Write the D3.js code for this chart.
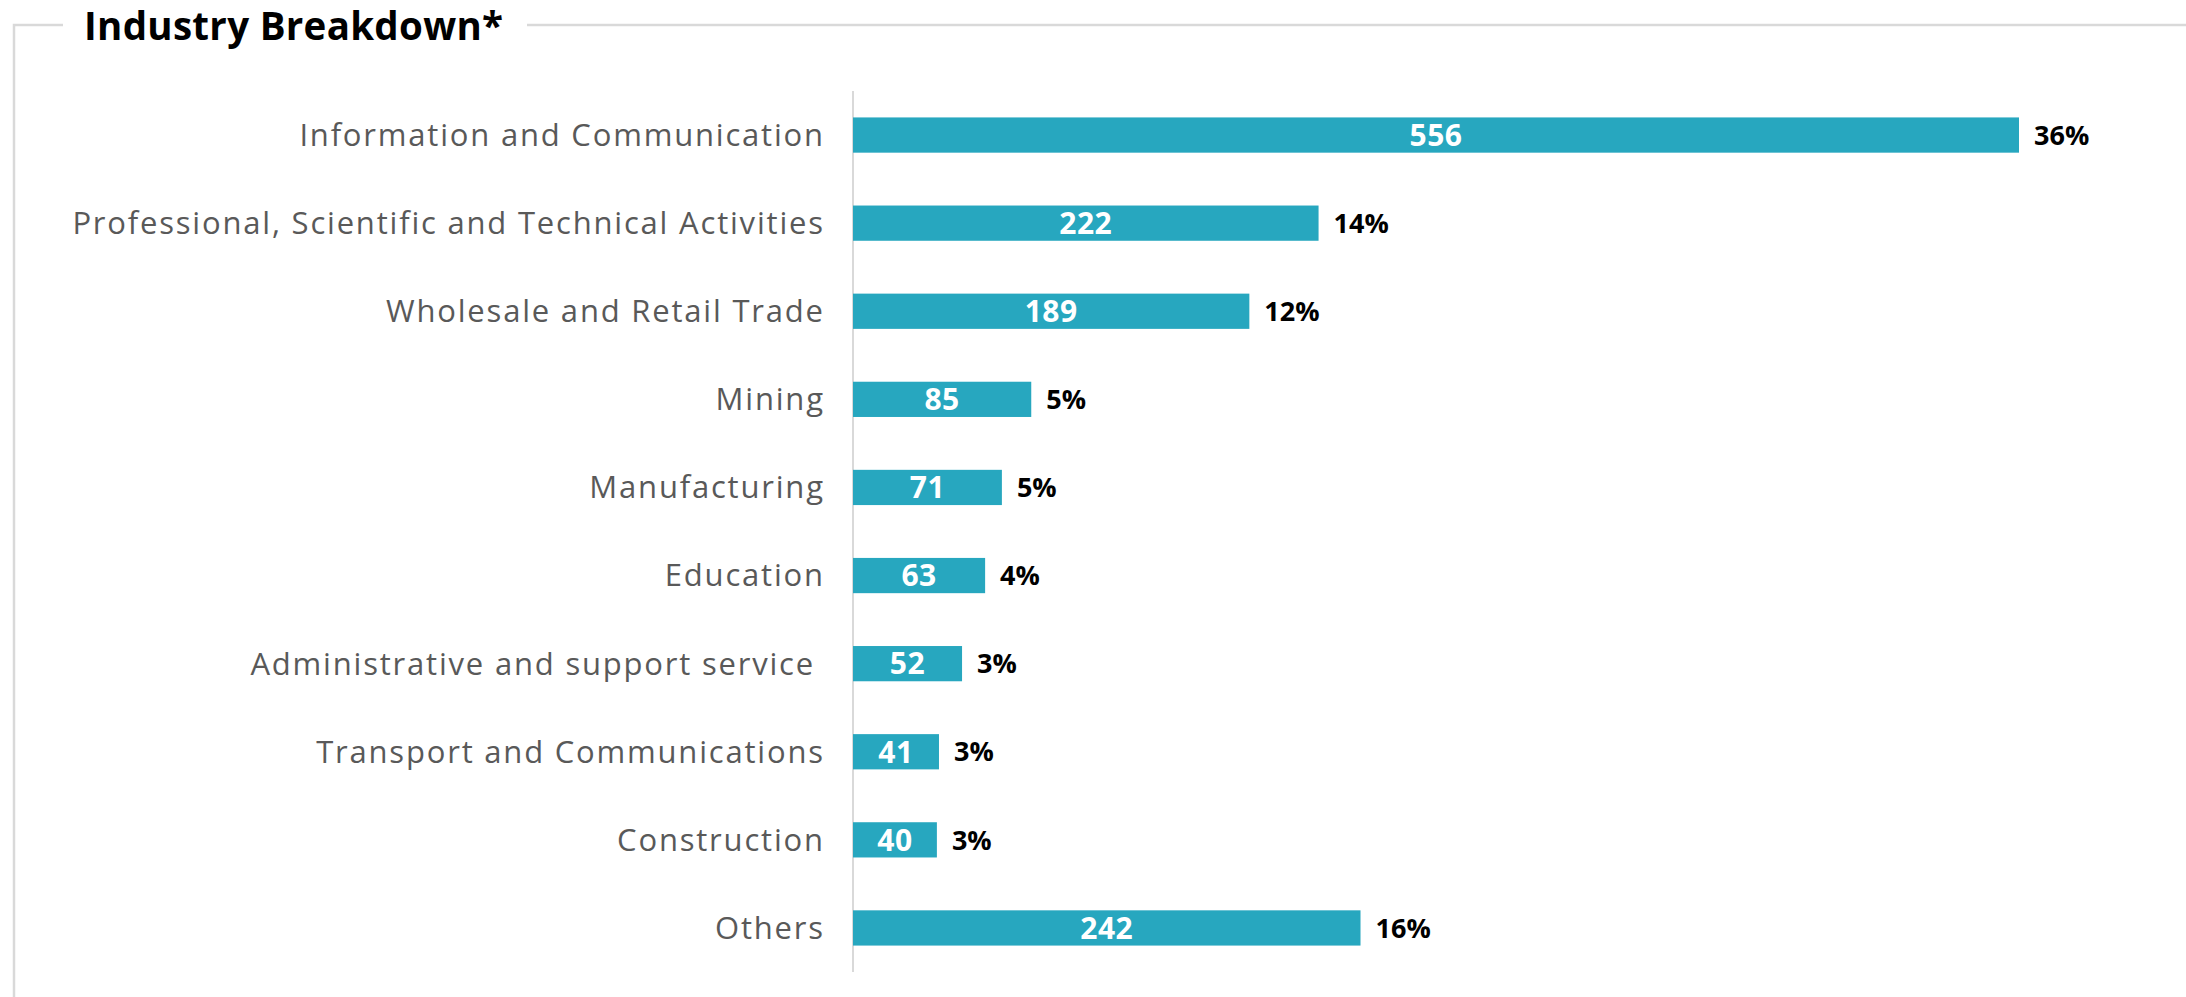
<!DOCTYPE html>
<html><head><meta charset="utf-8">
<script src="https://cdn.jsdelivr.net/npm/d3@7"></script>
<style>html,body{margin:0;padding:0;background:#fff;}svg{display:block;}</style>
</head><body>
<script>
const categories = ["Information and Communication","Professional, Scientific and Technical Activities","Wholesale and Retail Trade","Mining","Manufacturing","Education","Administrative and support service ","Transport and Communications","Construction","Others"];
const counts = [556,222,189,85,71,63,52,41,40,242];
const shares = [36,14,12,5,5,4,3,3,3,16];
const title = "Industry Breakdown*";

const W = 2186, H = 997;
const svg = d3.select("body").append("svg").attr("width", W).attr("height", H);

// frame
const frameY = 25;
svg.append("path").attr("d", `M14,${H} L14,${frameY} L63,${frameY}`).attr("fill","none").attr("stroke","#d9d9d9").attr("stroke-width",2.5);
svg.append("path").attr("d", `M527,${frameY} L${W},${frameY}`).attr("fill","none").attr("stroke","#d9d9d9").attr("stroke-width",2.5);
svg.append("text").attr("x",84).attr("y",40).text(title)
  .attr("font-family","Open Sans").attr("font-weight",700).attr("font-size",38.5).attr("letter-spacing",0.3).attr("fill","#000");

const x0 = 853;
const x = d3.scaleLinear().domain([0, 556]).range([x0, 2019]);
const y = d3.scaleBand().domain(categories).range([91, 972]).paddingInner(0.6).paddingOuter(0.3);

svg.append("line").attr("x1",x0).attr("x2",x0).attr("y1",91).attr("y2",972).attr("stroke","#d9d9d9").attr("stroke-width",2);

const ls = 1.8;
const g = svg.append("g");
categories.forEach((c,i)=>{
  const yc = y(c) + y.bandwidth()/2;
  g.append("rect").attr("x", x(0)).attr("y", y(c)).attr("width", x(counts[i]) - x(0)).attr("height", y.bandwidth()).attr("fill","#27a7bf");
  g.append("text").attr("x", 823 + ls).attr("y", yc).attr("dy","0.35em").attr("text-anchor","end")
    .style("white-space","pre").text(c)
    .attr("font-family","Open Sans").attr("font-size",31).attr("letter-spacing",ls).attr("fill","#595959");
  g.append("text").attr("x", (x(0)+x(counts[i]))/2).attr("y", yc).attr("dy","0.36em").attr("text-anchor","middle")
    .text(counts[i]).attr("font-family","Open Sans").attr("font-weight",700).attr("font-size",30).attr("letter-spacing",0.5).attr("fill","#fff");
  g.append("text").attr("x", x(counts[i]) + 15).attr("y", yc).attr("dy","0.36em")
    .text(shares[i] + "%").attr("font-family","Open Sans").attr("font-weight",700).attr("font-size",27).attr("fill","#000");
});
</script>
</body></html>
